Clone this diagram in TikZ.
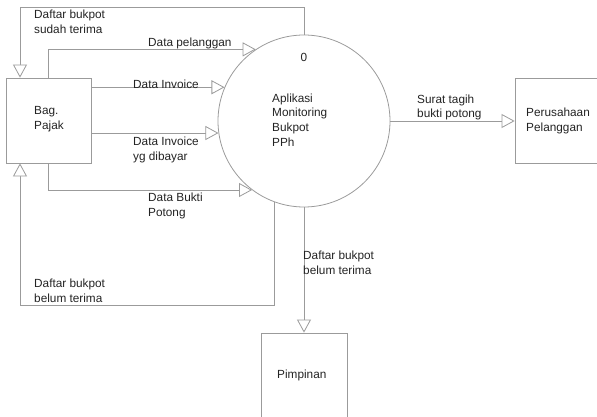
\documentclass[tikz,border=0pt]{standalone}
\usepackage{fontspec}
\setmainfont{Liberation Sans}
\usetikzlibrary{arrows.meta}
\definecolor{linegray}{RGB}{155,155,155}
\definecolor{inkgray}{RGB}{35,35,35}
\tikzset{
  flow/.style={draw=linegray, line width=0.8pt,
    -{Triangle[length=13pt,width=14pt,fill=white]}},
  entity/.style={draw=linegray, line width=0.8pt, rectangle, inner sep=0pt},
  process/.style={draw=linegray, line width=0.8pt, circle, inner sep=0pt,
    minimum size=172pt},
  lbl/.style={text=inkgray, inner sep=0pt, anchor=west, align=left,
    font=\fontsize{11.8}{14.7}\selectfont}
}
\begin{document}
\begin{tikzpicture}[x=1pt, y=-1pt]
  \useasboundingbox (0,0) rectangle (597,417);
  \clip (0,0) rectangle (597,417);

  % external entities and the process
  \node[entity, minimum width=85pt, minimum height=85pt] (bag) at (48.5,120.5) {};
  \node[entity, minimum width=100pt, minimum height=85pt] (per) at (565,120.5) {};
  \node[entity, minimum width=86pt, minimum height=100pt] (pim) at (304,383) {};
  \node[process] (c) at (304,121) {};

  % texts inside the shapes
  \node[lbl] (tbag) at (34,119.5) {Bag.\\Pajak};
  \node[lbl] (tper) at (526,121) {Perusahaan\\Pelanggan};
  \node[lbl] (tpim) at (277,375) {Pimpinan};
  \node[lbl, anchor=center] (tnum) at (304,57) {0};
  \node[lbl] (tproc) at (272,120) {Aplikasi\\Monitoring\\Bukpot\\PPh};

  % bend points of the looping flows
  \coordinate (k1) at (20,7);
  \coordinate (k2) at (20,305);

  % data flows
  \draw[flow] (c.north) |- (k1) -- (bag.north -| k1);
  \draw[flow] (bag.north) |- (c.124.4);
  \draw[flow] (bag.east |- c.157.4) -- (c.157.4);
  \draw[flow] (bag.east |- c.188) -- (c.188);
  \draw[flow] (bag.south) |- (c.233.4);
  \draw[flow] (c.250.3) |- (k2) -- (bag.south -| k2);
  \draw[flow] (c.east) -- (c.east -| per.west);
  \draw[flow] (c.south) -- (pim.north);

  % flow labels
  \node[lbl] (l1) at (34,22) {Daftar bukpot\\sudah terima};
  \node[lbl] (l2) at (148,43) {Data pelanggan};
  \node[lbl] (l3) at (133,84) {Data Invoice};
  \node[lbl] (l4) at (133,150) {Data Invoice\\yg dibayar};
  \node[lbl] (l5) at (148,206) {Data Bukti\\Potong};
  \node[lbl] (l6) at (34,291) {Daftar bukpot\\belum terima};
  \node[lbl] (l7) at (417,107.5) {Surat tagih\\bukti potong};
  \node[lbl] (l8) at (303,262.5) {Daftar bukpot\\belum terima};
\end{tikzpicture}
\end{document}
